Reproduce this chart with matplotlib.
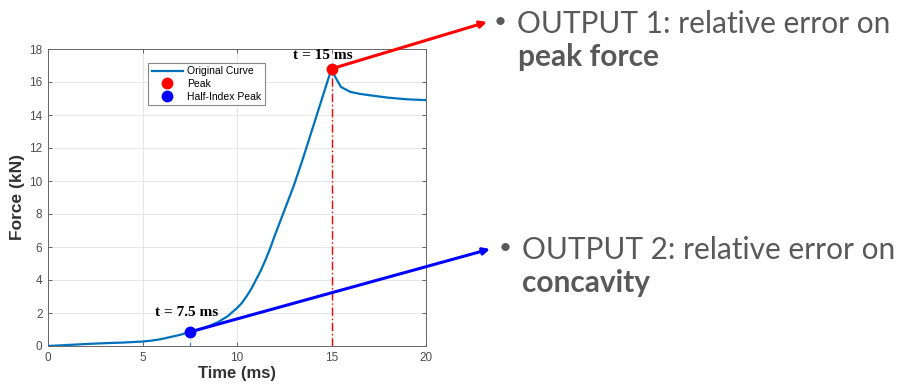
import matplotlib
matplotlib.use("Agg")
import matplotlib.pyplot as plt

# ---- data ----
time_ms = [0, 1, 2, 3, 4, 5, 5.5, 6, 6.5, 7, 7.5, 8, 8.5, 9, 9.5, 10, 10.25, 10.5,
           10.75, 11, 11.25, 11.5, 11.75, 12, 12.5, 13, 13.5, 14, 14.5, 15, 15.2,
           15.5, 16, 16.5, 17, 18, 19, 20]
force_kn = [0, 0.06, 0.12, 0.17, 0.21, 0.27, 0.33, 0.42, 0.55, 0.68, 0.85, 1.0, 1.2,
            1.45, 1.8, 2.3, 2.6, 3.0, 3.45, 4.0, 4.55, 5.2, 5.9, 6.7, 8.2, 9.7, 11.4,
            13.2, 15.0, 16.8, 16.3, 15.7, 15.4, 15.28, 15.2, 15.05, 14.95, 14.9]
peak_t, peak_f = 15, 16.8
half_t, half_f = 7.5, 0.85
x_ticks = [0, 5, 10, 15, 20]
y_ticks = [0, 2, 4, 6, 8, 10, 12, 14, 16, 18]
legend_labels = ["Original Curve", "Peak", "Half-Index Peak"]
label_peak = "t = 15 ms"
label_half = "t = 7.5 ms"
out1_line1 = "OUTPUT 1: relative error on"
out1_line2 = "peak force"
out2_line1 = "OUTPUT 2: relative error on"
out2_line2 = "concavity"

W, H = 898, 386
fig = plt.figure(figsize=(W / 100, H / 100), dpi=100)
ax = fig.add_axes([48 / W, (H - 346) / H, 378 / W, 297 / H])

sans = ["Liberation Sans", "DejaVu Sans"]
tick_col = "#4d4d4d"

ax.plot(time_ms, force_kn, color="#0072BD", lw=1.6, label=legend_labels[0], zorder=3)
ax.plot([peak_t, peak_t], [0, peak_f], color="red", lw=1.0, ls=(0, (6, 2, 1, 2)), zorder=2)
ax.plot([half_t, half_t], [0, 0.4], color="#4a7fd6", lw=0.9, ls=(0, (3, 2)), zorder=2)
ax.plot([peak_t], [peak_f], "o", color="red", ms=7.5, label=legend_labels[1], zorder=5)
ax.plot([half_t], [half_f], "o", color="blue", ms=7.5, label=legend_labels[2], zorder=5)

# arrows leaving the axes toward the text
ax.annotate("", xy=(487, H - 22), xycoords="figure pixels",
            xytext=(peak_t, peak_f), textcoords="data",
            arrowprops=dict(arrowstyle="-|>", color="red", lw=2.2,
                            mutation_scale=10, shrinkA=0, shrinkB=0),
            annotation_clip=False, zorder=6)
ax.annotate("", xy=(490, H - 249), xycoords="figure pixels",
            xytext=(half_t, half_f), textcoords="data",
            arrowprops=dict(arrowstyle="-|>", color="blue", lw=2.2,
                            mutation_scale=10, shrinkA=0, shrinkB=0),
            annotation_clip=False, zorder=6)

serif = ["Liberation Serif", "DejaVu Serif"]
ax.text(14.55, 17.6, label_peak, family=serif, fontweight="bold", fontsize=11,
        ha="center", va="center", clip_on=False, zorder=7)
ax.text(7.35, 2.0, label_half, family=serif, fontweight="bold", fontsize=11,
        ha="center", va="center", zorder=7)

ax.set_xlim(0, 20)
ax.set_ylim(0, 18)
ax.set_xticks(x_ticks)
ax.set_yticks(y_ticks)
ax.grid(True, color="#e6e6e6", lw=0.7, zorder=0)
ax.tick_params(direction="in", length=3, width=0.6, top=True, right=True,
               labelsize=8.5, colors=tick_col, pad=4)
for lab in ax.get_xticklabels() + ax.get_yticklabels():
    lab.set_family(sans)
for s in ax.spines.values():
    s.set_color("#666666")
    s.set_linewidth(0.7)
ax.set_xlabel("Time (ms)", family=sans, fontweight="bold", fontsize=12,
              color="#333333", labelpad=2)
ax.set_ylabel("Force (kN)", family=sans, fontweight="bold", fontsize=12.5,
              color="#333333", labelpad=3)

leg = ax.legend(loc="upper left", bbox_to_anchor=(0.265, 0.954), prop={"family": sans, "size": 7.5},
                fancybox=False, edgecolor="#888888", framealpha=1, borderpad=0.35,
                labelspacing=0.25, handlelength=3.0, handletextpad=0.4, borderaxespad=0)
leg.get_frame().set_linewidth(0.8)

# right-hand text
txt_col = "#595959"
fs = 21.5
fam = ["Lato", "DejaVu Sans"]
fig.text(500 / W, 1 - 22 / H, "\u2022", color=txt_col, fontsize=16, family=fam, ha="center", va="center")
fig.text(517 / W, 1 - 33 / H, out1_line1, color=txt_col, fontsize=fs, family=fam, va="baseline")
fig.text(518 / W, 1 - 66 / H, out1_line2, color=txt_col, fontsize=fs, family=fam,
         fontweight="bold", va="baseline")
fig.text(505 / W, 1 - 248 / H, "\u2022", color=txt_col, fontsize=16, family=fam, ha="center", va="center")
fig.text(522 / W, 1 - 259 / H, out2_line1, color=txt_col, fontsize=fs, family=fam, va="baseline")
fig.text(522 / W, 1 - 292 / H, out2_line2, color=txt_col, fontsize=fs, family=fam,
         fontweight="bold", va="baseline")

fig.savefig("out.png", dpi=100)
